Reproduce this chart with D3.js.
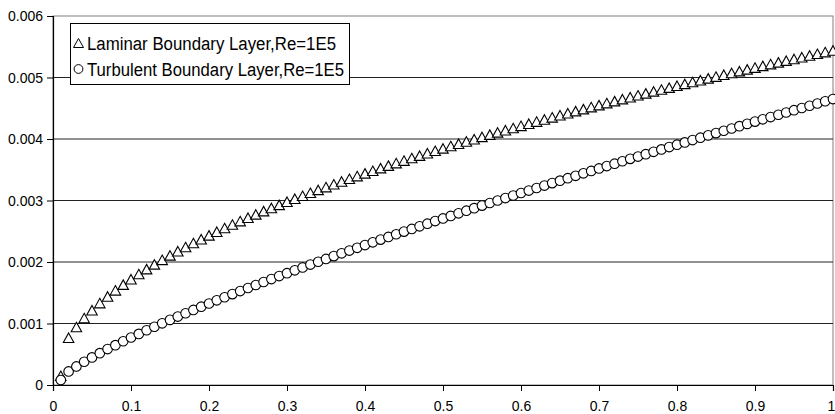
<!DOCTYPE html>
<html><head><meta charset="utf-8">
<script src="https://cdn.jsdelivr.net/npm/d3@7"></script>
<style>
html,body{margin:0;padding:0;background:#fff;}
svg{display:block;font-family:"Liberation Sans",Arial,sans-serif;}
</style></head>
<body><svg id="c" width="835" height="414"></svg>
<script>
// x positions (x/L)
const xValues = [0.01,0.02,0.03,0.04,0.05,0.06,0.07,0.08,0.09,0.10,
0.11,0.12,0.13,0.14,0.15,0.16,0.17,0.18,0.19,0.20,
0.21,0.22,0.23,0.24,0.25,0.26,0.27,0.28,0.29,0.30,
0.31,0.32,0.33,0.34,0.35,0.36,0.37,0.38,0.39,0.40,
0.41,0.42,0.43,0.44,0.45,0.46,0.47,0.48,0.49,0.50,
0.51,0.52,0.53,0.54,0.55,0.56,0.57,0.58,0.59,0.60,
0.61,0.62,0.63,0.64,0.65,0.66,0.67,0.68,0.69,0.70,
0.71,0.72,0.73,0.74,0.75,0.76,0.77,0.78,0.79,0.80,
0.81,0.82,0.83,0.84,0.85,0.86,0.87,0.88,0.89,0.90,
0.91,0.92,0.93,0.94,0.95,0.96,0.97,0.98,0.99,1.00];

const laminar = [0.000150,0.000769,0.000942,0.001088,0.001216,0.001332,0.001439,0.001539,0.001632,0.001720,
0.001804,0.001884,0.001961,0.002035,0.002107,0.002176,0.002243,0.002308,0.002371,0.002433,
0.002493,0.002552,0.002609,0.002665,0.002720,0.002774,0.002827,0.002879,0.002929,0.002980,
0.003029,0.003077,0.003125,0.003172,0.003218,0.003264,0.003309,0.003353,0.003397,0.003441,
0.003483,0.003526,0.003567,0.003608,0.003649,0.003690,0.003729,0.003769,0.003808,0.003847,
0.003885,0.003923,0.003960,0.003997,0.004034,0.004071,0.004107,0.004143,0.004178,0.004214,
0.004249,0.004283,0.004318,0.004352,0.004386,0.004419,0.004453,0.004486,0.004519,0.004551,
0.004584,0.004616,0.004648,0.004680,0.004711,0.004742,0.004774,0.004804,0.004835,0.004866,
0.004896,0.004926,0.004956,0.004986,0.005015,0.005045,0.005074,0.005103,0.005132,0.005161,
0.005189,0.005218,0.005246,0.005274,0.005302,0.005330,0.005358,0.005385,0.005413,0.005440];

const turbulent = [0.000080,0.000220,0.000302,0.000378,0.000449,0.000518,0.000584,0.000648,0.000711,0.000772,
0.000831,0.000890,0.000947,0.001003,0.001059,0.001113,0.001167,0.001221,0.001273,0.001325,
0.001377,0.001427,0.001478,0.001528,0.001577,0.001626,0.001675,0.001723,0.001771,0.001818,
0.001865,0.001912,0.001958,0.002004,0.002050,0.002096,0.002141,0.002186,0.002231,0.002275,
0.002320,0.002364,0.002407,0.002451,0.002494,0.002538,0.002580,0.002623,0.002666,0.002708,
0.002750,0.002792,0.002834,0.002876,0.002917,0.002959,0.003000,0.003040,0.003081,0.003122,
0.003162,0.003203,0.003243,0.003283,0.003323,0.003363,0.003402,0.003442,0.003481,0.003521,
0.003560,0.003599,0.003638,0.003677,0.003715,0.003754,0.003792,0.003831,0.003869,0.003907,
0.003945,0.003983,0.004021,0.004059,0.004096,0.004134,0.004171,0.004209,0.004246,0.004283,
0.004320,0.004357,0.004394,0.004431,0.004468,0.004504,0.004541,0.004577,0.004614,0.004650];

const xTicks = [0,0.1,0.2,0.3,0.4,0.5,0.6,0.7,0.8,0.9,1];
const xTickLabels = ["0","0.1","0.2","0.3","0.4","0.5","0.6","0.7","0.8","0.9","1"];
const yTicks = [0,0.001,0.002,0.003,0.004,0.005,0.006];
const yTickLabels = ["0","0.001","0.002","0.003","0.004","0.005","0.006"];
const seriesNames = ["Laminar Boundary Layer,Re=1E5","Turbulent Boundary Layer,Re=1E5"];

const svg = d3.select("#c");
const L = 53, R = 833, T = 16, B = 385;
const x = d3.scaleLinear().domain([0,1]).range([L,R]);
const y = d3.scaleLinear().domain([0,0.006]).range([B,T]);

// plot area border
svg.append("rect").attr("x",L).attr("y",T).attr("width",R-L).attr("height",B-T)
  .attr("fill","none").attr("stroke","#808080").attr("stroke-width",1);

// gridlines
svg.append("g").selectAll("line").data(yTicks.slice(1,6)).join("line")
  .attr("x1",L).attr("x2",R).attr("y1",d=>y(d)).attr("y2",d=>y(d))
  .attr("stroke","#222").attr("stroke-width",1);

// axes
const yAxis = d3.axisLeft(y).tickValues(yTicks).tickFormat((d,i)=>yTickLabels[i]).tickSize(6).tickPadding(3);
const gy = svg.append("g").attr("transform",`translate(${L},0)`).call(yAxis);
const xAxis = d3.axisBottom(x).tickValues(xTicks).tickFormat((d,i)=>xTickLabels[i]).tickSize(6).tickPadding(10);
const gx = svg.append("g").attr("transform",`translate(0,${B})`).call(xAxis);
[gx,gy].forEach(g=>{
  g.selectAll("path").attr("stroke","#000").attr("stroke-width",1.2);
  g.selectAll("line").attr("stroke","#000");
  g.selectAll("text").attr("fill","#000").style("font-size","14px")
   .style("font-family","'Liberation Sans',Arial,sans-serif");
});
gy.selectAll("text").attr("dy","0.35em").attr("transform","translate(-1,0)");
gx.selectAll(".tick").filter(d=>d===1).select("text").attr("dx","-2");

// markers
const tri = (w,h)=>`M0,${-h/2}L${w/2},${h/2}L${-w/2},${h/2}Z`;
const lamData = xValues.map((v,i)=>[v,laminar[i]]);
const turData = xValues.map((v,i)=>[v,turbulent[i]]);

svg.append("g").selectAll("path").data(lamData).join("path")
  .attr("d",tri(10.5,9.5))
  .attr("transform",d=>`translate(${x(d[0])},${y(d[1])})`)
  .attr("fill","#fff").attr("stroke","#000").attr("stroke-width",1.1);

svg.append("g").selectAll("circle").data(turData).join("circle")
  .attr("cx",d=>x(d[0])).attr("cy",d=>y(d[1])).attr("r",4.8)
  .attr("fill","#fff").attr("stroke","#000").attr("stroke-width",1.1);

// legend
const lg = svg.append("g");
lg.append("rect").attr("x",70.5).attr("y",23.5).attr("width",279).attr("height",61)
  .attr("fill","#fff").attr("stroke","#000").attr("stroke-width",1);
lg.append("path").attr("d",tri(10,9)).attr("transform","translate(78.5,43)")
  .attr("fill","#fff").attr("stroke","#000");
lg.append("circle").attr("cx",78.5).attr("cy",69).attr("r",4.4)
  .attr("fill","#fff").attr("stroke","#000");
lg.selectAll("text").data(seriesNames).join("text")
  .attr("x",87).attr("y",(d,i)=>49.5+i*26)
  .attr("textLength",(d,i)=>i===0?249:257).attr("lengthAdjust","spacingAndGlyphs")
  .style("font-size","18px").attr("fill","#000").text(d=>d);
</script></body></html>
